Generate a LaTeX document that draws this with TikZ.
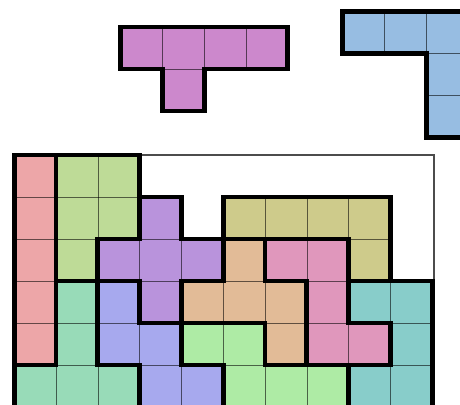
\documentclass[tikz,border=0pt]{standalone}
\usepackage{tikz}
\definecolor{rose}{HTML}{EDA6A8}
\definecolor{sage}{HTML}{BEDB97}
\definecolor{lilac}{HTML}{B993DC}
\definecolor{mint}{HTML}{98DBB8}
\definecolor{iris}{HTML}{A7A9EE}
\definecolor{sand}{HTML}{E2BB97}
\definecolor{leaf}{HTML}{AEEBA5}
\definecolor{khaki}{HTML}{CECB8B}
\definecolor{orchid}{HTML}{E097BC}
\definecolor{aqua}{HTML}{88CDCA}
\definecolor{plum}{HTML}{CC88CC}
\definecolor{sky}{HTML}{97BDE2}
\tikzset{
  board/.style={draw=black!70,line width=1.3pt,fill=white},
  cellline/.style={draw=black,draw opacity=.35,line width=.6pt},
  edge/.style={draw=black,line width=4.8pt,line join=miter},
}
\newcommand{\tile}[3]{\fill[#1] #2;
  \foreach \c/\r in {#3} \draw[cellline] (\c,\r) rectangle ++(1,1);}
\newcommand{\pieceI}{(0,0)--(1,0)--(1,5)--(0,5)--cycle}
\newcommand{\pieceP}{(1,0)--(3,0)--(3,2)--(2,2)--(2,3)--(1,3)--cycle}
\newcommand{\pieceX}{(3,1)--(4,1)--(4,2)--(5,2)--(5,3)--(4,3)--(4,4)--(3,4)--(3,3)--(2,3)--(2,2)--(3,2)--cycle}
\newcommand{\pieceT}{(1,3)--(2,3)--(2,5)--(3,5)--(3,6.5)--(0,6.5)--(0,5)--(1,5)--cycle}
\newcommand{\pieceW}{(2,3)--(3,3)--(3,4)--(4,4)--(4,5)--(5,5)--(5,6.5)--(3,6.5)--(3,5)--(2,5)--cycle}
\newcommand{\pieceF}{(5,2)--(6,2)--(6,3)--(7,3)--(7,5)--(6,5)--(6,4)--(4,4)--(4,3)--(5,3)--cycle}
\newcommand{\pieceZ}{(4,4)--(6,4)--(6,5)--(8,5)--(8,6.5)--(5,6.5)--(5,5)--(4,5)--cycle}
\newcommand{\pieceL}{(5,1)--(9,1)--(9,3)--(8,3)--(8,2)--(5,2)--cycle}
\newcommand{\pieceN}{(6,2)--(8,2)--(8,4)--(9,4)--(9,5)--(7,5)--(7,3)--(6,3)--cycle}
\newcommand{\pieceU}{(8,3)--(10,3)--(10,6.5)--(8,6.5)--(8,5)--(9,5)--(9,4)--(8,4)--cycle}
\newcommand{\pieceY}{(0,0)--(4,0)--(4,1)--(2,1)--(2,2)--(1,2)--(1,1)--(0,1)--cycle}
\newcommand{\pieceV}{(0,0)--(3,0)--(3,3)--(2,3)--(2,1)--(0,1)--cycle}

\begin{document}
\begin{tikzpicture}[x=41.8pt,y=-42pt]
  \useasboundingbox (-0.3397,-3.690) rectangle (10.665,5.952);
  \clip (-0.3397,-3.690) rectangle (10.665,5.952);

  \begin{scope}[shift={(2.543,-3.048)}]
    \tile{plum}{\pieceY}{0/0,1/0,2/0,3/0,1/1}
    \draw[edge] \pieceY;
  \end{scope}
  \begin{scope}[shift={(7.854,-3.421)}]
    \tile{sky}{\pieceV}{0/0,1/0,2/0,2/1,2/2}
    \draw[edge] \pieceV;
  \end{scope}

  \draw[board] (0,0) rectangle (10.04,6.5);
  \tile{rose}{\pieceI}{0/0,0/1,0/2,0/3,0/4}
  \tile{sage}{\pieceP}{1/0,2/0,1/1,2/1,1/2}
  \tile{lilac}{\pieceX}{3/1,2/2,3/2,4/2,3/3}
  \tile{mint}{\pieceT}{1/3,1/4,0/5,1/5,2/5}
  \tile{iris}{\pieceW}{2/3,2/4,3/4,3/5,4/5}
  \tile{sand}{\pieceF}{5/2,4/3,5/3,6/3,6/4}
  \tile{leaf}{\pieceZ}{4/4,5/4,5/5,6/5,7/5}
  \tile{khaki}{\pieceL}{5/1,6/1,7/1,8/1,8/2}
  \tile{orchid}{\pieceN}{6/2,7/2,7/3,7/4,8/4}
  \tile{aqua}{\pieceU}{8/3,9/3,9/4,8/5,9/5}
  \foreach \p in {\pieceI,\pieceP,\pieceX,\pieceT,\pieceW,\pieceF,\pieceZ,\pieceL,\pieceN,\pieceU}
    \draw[edge] \p;
\end{tikzpicture}
\end{document}
